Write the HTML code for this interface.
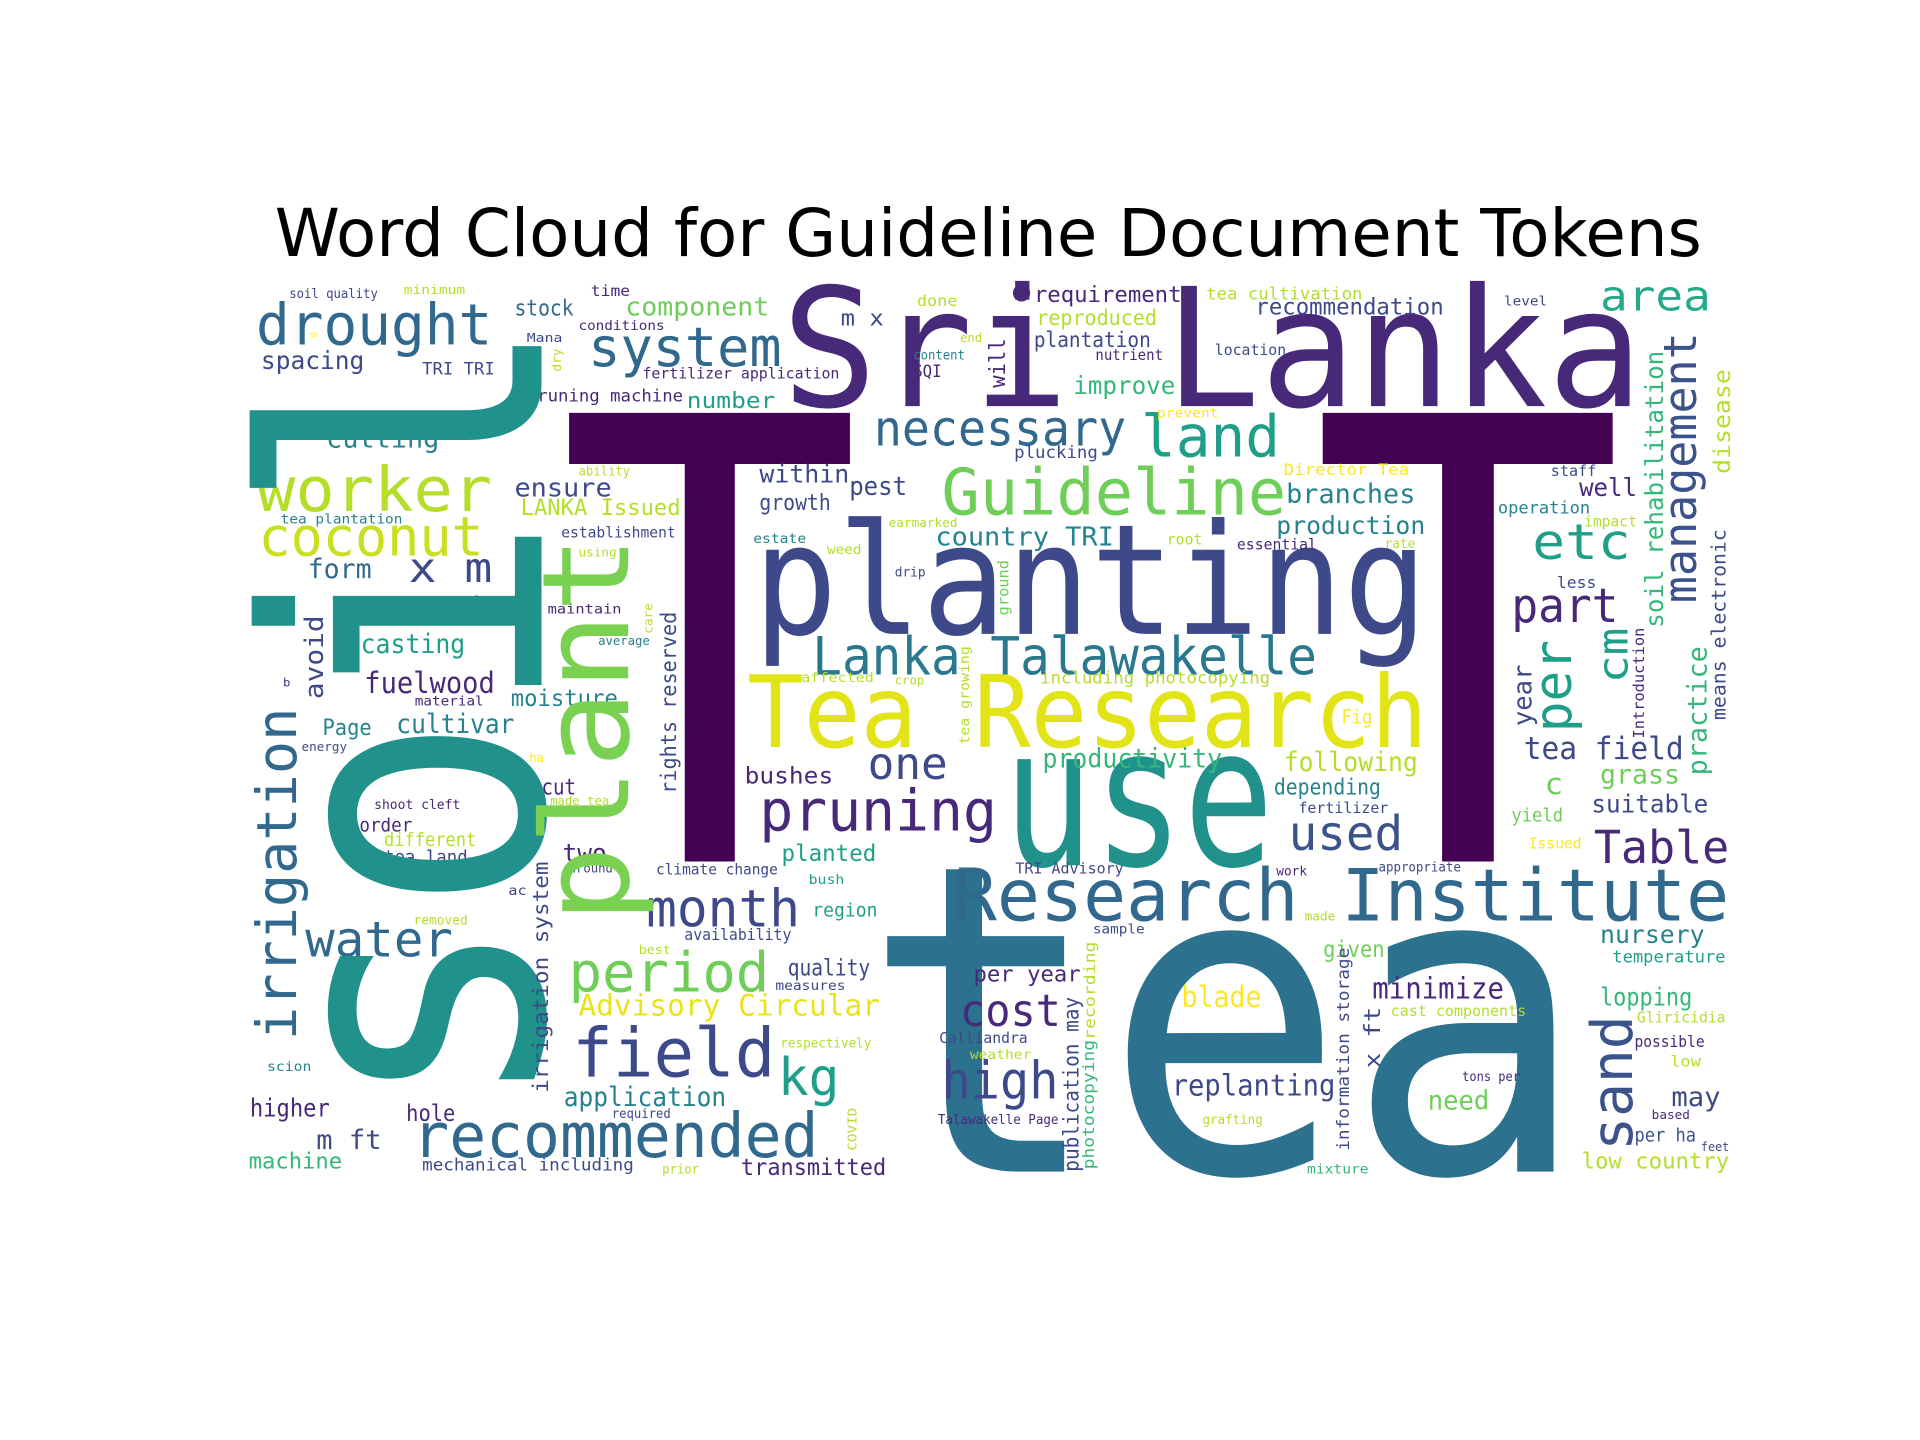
<!DOCTYPE html>
<html><head><meta charset="utf-8"><style>
html,body{margin:0;padding:0;background:#fff;}
svg{display:block;}
text.w{font-family:"DejaVu Sans Mono","Liberation Mono",monospace;}
</style></head><body>
<svg id="cloud" width="1920" height="1440" viewBox="0 0 1560 1170" xmlns="http://www.w3.org/2000/svg">
<rect width="1560" height="1170" fill="#fff"/>
<text x="803" y="208" text-anchor="middle" font-family="DejaVu Sans, Liberation Sans, sans-serif" font-size="53.5" fill="#000">Word Cloud for Guideline Document Tokens</text>
<g id="words"></g>
</svg>
<script>
const P="#440154",P2="#482878",B="#3e4989",B2="#31688e",T="#26828e",T2="#1f9e89",G="#35b779",G2="#6ece58",Y2="#b5de2b",Y="#fde725",TEA="#2c718e",SOIL="#21918c";
// horizontal words: [text, xLeft, xRight, baseline, size, color]
const bigWords=[
["T",453,700,700,500,P],["T",1065,1320,700,500,P],["tea",700,1290,952,350,TEA],
["planting",612,1160,515,125,B],["Sri Lanka",635,1335,330,134,P2],["use",815,1035,703,158,SOIL],
["Tea Research",607,1160,607,81,"#e2e418"],["Research Institute",775,1405,748,59,B2],
["Lanka Talawakelle",660,1070,548,43,"#2a788e"],["Guideline",765,1045,418,52,G2]
];
// horizontal words: [text, xLeft, xRight, centerY, size, color]
const hWords=[
["necessary",710,915,350,40,B2],["drought",208,400,266,46,B2],["worker",208,400,400,50,Y2],["coconut",210,393,438,44,"#c8e020"],
["system",478,635,284,44,B2],["land",927,1040,357,47,T2],["area",1300,1390,242,34,"#26a98b"],["etc",1245,1325,442,40,T2],
["part",1228,1315,494,38,P2],["pruning",617,810,661,46,P2],["one",705,770,622,36,B],["month",525,650,740,42,B],
["period",462,625,792,45,G2],["field",465,630,858,55,B],["kg",632,682,877,42,T2],["recommended",335,665,925,50,B2],
["Advisory Circular",470,715,818,24,"#e8e419"],["water",248,368,765,40,B2],["cost",780,862,823,36,P2],["high",765,860,880,42,B],
["replanting",952,1085,883,24,B],["blade",960,1025,811,24,Y],["minimize",1115,1222,804,24,P2],["Table",1295,1405,690,37,P2],
["used",1047,1140,679,39,"#3b528b"],["nursery",1300,1385,760,20,T],["temperature",1310,1402,778,14,T2],["lopping",1300,1375,811,20,G],
["Gliricidia",1330,1402,827,12,Y2],["possible",1328,1385,847,13,P2],["low",1357,1382,863,12,Y2],["may",1358,1398,892,22,B],
["tons per",1188,1235,875,11,P2],["need",1160,1210,895,22,G2],["per ha",1328,1378,923,15,"#3b528b"],["based",1342,1373,906,10,P2],
["feet",1382,1405,932,10,B],["low country",1285,1405,944,18,Y2],["mixture",1062,1112,950,11,G],["given",1075,1125,772,19,G2],
["cast components",1130,1240,822,12,Y2],["grass",1300,1365,630,22,G2],["suitable",1293,1388,654,20,B],["tea field",1238,1368,609,25,B],
["c",1255,1270,638,24,G2],["yield",1228,1270,663,15,G2],["Issued",1242,1285,686,12,Y],["appropriate",1120,1187,705,11,B],
["work",1037,1062,708,11,P2],["fertilizer",1055,1128,657,12,B],["depending",1035,1122,640,18,T],["following",1043,1152,620,22,Y2],
["Fig",1090,1115,583,16,Y],["less",1265,1297,474,13,B],["impact",1287,1330,424,12,Y2],["well",1283,1330,397,20,P2],
["staff",1260,1297,383,12,B],["operation",1217,1292,413,14,T],["branches",1045,1150,402,22,T],["production",1037,1158,428,20,T],
["rate",1125,1150,442,11,Y2],["essential",1005,1070,443,12,P2],["root",948,977,439,12,Y2],["Director Tea",1043,1145,382,13,Y],
["prevent",940,990,336,11,Y],["location",987,1045,285,12,B],["level",1222,1257,245,11,B],["recommendation",1020,1173,250,19,B],
["tea cultivation",980,1107,239,14,Y2],["requirement",840,960,240,18,P2],["reproduced",842,940,259,17,Y2],["plantation",840,935,277,17,B],
["nutrient",890,945,289,12,P2],["improve",872,955,314,20,G],["done",745,778,245,12,Y2],["end",780,798,275,10,Y2],
["content",742,784,289,11,T],["SQI",742,765,302,14,P2],["m x",683,718,259,18,B],["component",508,625,250,21,G2],
["time",480,512,237,12,P2],["stock",418,466,251,18,B2],["conditions",470,540,265,11,P2],["Mana",428,457,275,10,B],
["fertilizer application",522,682,304,12,P2],["pruning machine",428,555,322,14,P2],["number",558,630,326,18,T2],["soil quality",235,307,239,11,B],
["minimum",328,378,236,10,Y2],["TRI TRI",343,402,300,14,B],["so",252,258,272,8,Y],["spacing",212,296,294,20,B],
["cutting",265,357,357,22,T],["tea plantation",228,327,422,11,T],["ability",470,512,383,11,Y2],["ensure",418,497,397,21,B],
["LANKA Issued",423,553,413,18,Y2],["establishment",456,549,433,12,B],["using",470,501,449,10,Y2],["within",617,690,386,20,B],
["pest",690,737,396,21,B],["growth",617,675,409,18,B],["earmarked",722,778,425,10,Y2],["estate",612,655,438,11,T],
["weed",672,700,447,11,Y2],["drip",727,752,465,11,B],["plucking",824,892,368,14,B],["country TRI",760,905,437,21,T],
["form",250,302,463,22,B2],["x m",332,400,463,33,B],["maintain",445,505,495,11,P2],["average",486,528,521,10,T],
["casting",293,378,524,22,T2],["s",384,390,487,12,P2],["fuelwood",296,402,556,24,P2],["material",337,393,570,11,P2],
["b",230,236,555,9,P2],["moisture",415,502,568,19,T],["Page",262,302,592,18,T],["energy",245,282,607,10,B],
["cultivar",322,418,589,22,T],["ha",430,442,616,10,Y],["cut",440,468,640,18,P2],["made tea",447,495,651,10,Y2],
["shoot cleft",304,374,654,11,P2],["order",292,335,671,15,P2],["different",312,387,683,15,Y2],["tea land",312,380,697,15,B],
["two",457,493,694,20,P2],["ac",413,428,724,11,B],["removed",336,380,748,11,Y2],["best",519,545,772,10,Y2],
["scion",217,253,867,11,T],["higher",203,268,901,20,P2],["hole",330,370,905,19,P2],["m ft",257,310,927,22,B],
["machine",202,278,944,18,G],["mechanical including",343,515,947,14,B],["prior",538,568,950,11,Y2],["required",497,545,905,11,B],
["application",458,590,892,22,T],["transmitted",602,720,949,19,P2],["respectively",634,708,848,11,Y2],["measures",630,687,801,11,B],
["quality",640,707,787,19,B],["availability",556,643,760,13,B],["region",660,713,740,15,T2],["around",462,498,706,10,B],
["climate change",533,632,707,12,B],["planted",635,712,694,19,T2],["bush",657,686,715,11,T2],["bushes",605,677,631,19,P2],
["affected",651,710,551,11,Y2],["crop",727,751,553,10,Y2],["including photocopying",845,1032,551,14,Y2],["productivity",847,993,617,22,G],
["TRI Advisory",825,913,706,12,B],["made",1060,1085,745,10,Y2],["sample",888,930,755,11,B],["per year",791,878,792,18,P2],
["Calliandra",763,835,844,12,B],["weather",788,838,857,11,Y2],["Talawakelle Page",762,860,910,11,P2],["grafting",977,1026,910,11,Y2]
];
// vertical words (read bottom-to-top): [text, centerX, yTop, yBottom, size, color]
const vWords=[
["soil",347,255,905,310,SOIL],["plant",481,435,750,98,"#7ad151"],["management",1367,270,490,37,"#3b528b"],
["per",1264,520,595,42,T2],["cm",1312,510,555,34,T2],["year",1238,540,590,21,B],["soil rehabilitation",1345,285,510,20,G],
["disease",1400,300,385,19,Y2],["practice",1380,525,630,22,G],["means electronic",1397,430,585,16,B],["Introduction",1332,510,600,12,P2],
["sand",1312,825,935,46,"#3b528b"],["x ft",1116,818,868,18,B],["information storage",1092,770,935,14,B],["will",811,275,315,18,P2],
["dry",453,283,302,10,Y2],["ground",816,455,500,12,G2],["care",527,490,515,10,Y2],["rights reserved",544,497,645,17,B],
["avoid",256,500,568,21,B],["irrigation",227,575,845,45,B2],["irrigation system",440,700,888,17,B],["COVID",693,900,935,10,Y2],
["tea growing",784,525,605,11,Y2],["recording",886,765,845,12,Y2],["publication may",871,810,952,17,B],["photocopying",885,845,950,13,G]
];
const NS="http://www.w3.org/2000/svg";
const g=document.getElementById("words");
function slug(s){return s.toLowerCase().replace(/[^a-z0-9]+/g,"-").replace(/^-|-$/g,"");}
function mk(t,size,color){
  const el=document.createElementNS(NS,"text");
  el.setAttribute("class","w");
  el.setAttribute("font-size",size);
  el.setAttribute("fill",color);
  el.setAttribute("lengthAdjust","spacingAndGlyphs");
  el.textContent=t;
  
  
  return el;
}
bigWords.forEach(w=>{
  const el=mk(w[0],w[4],w[5]);
  el.setAttribute("x",w[1]);el.setAttribute("y",w[3]);
  el.setAttribute("textLength",w[2]-w[1]);
  g.appendChild(el);
});
hWords.forEach(w=>{
  const el=mk(w[0],w[4],w[5]);
  el.setAttribute("x",w[1]);el.setAttribute("y",w[3]+0.3*w[4]);
  el.setAttribute("textLength",Math.max(4,w[2]-w[1]));
  g.appendChild(el);
});
vWords.forEach(w=>{
  const el=mk(w[0],w[4],w[5]);
  const bx=w[1]+0.3*w[4];
  el.setAttribute("x",0);el.setAttribute("y",0);
  el.setAttribute("transform","translate("+bx+","+w[3]+") rotate(-90)");
  el.setAttribute("textLength",w[3]-w[2]);
  g.appendChild(el);
});
const dot=document.createElementNS(NS,"circle");
dot.setAttribute("cx",830);dot.setAttribute("cy",238);dot.setAttribute("r",7);dot.setAttribute("fill",P2);


g.appendChild(dot);
</script>
</body></html>
